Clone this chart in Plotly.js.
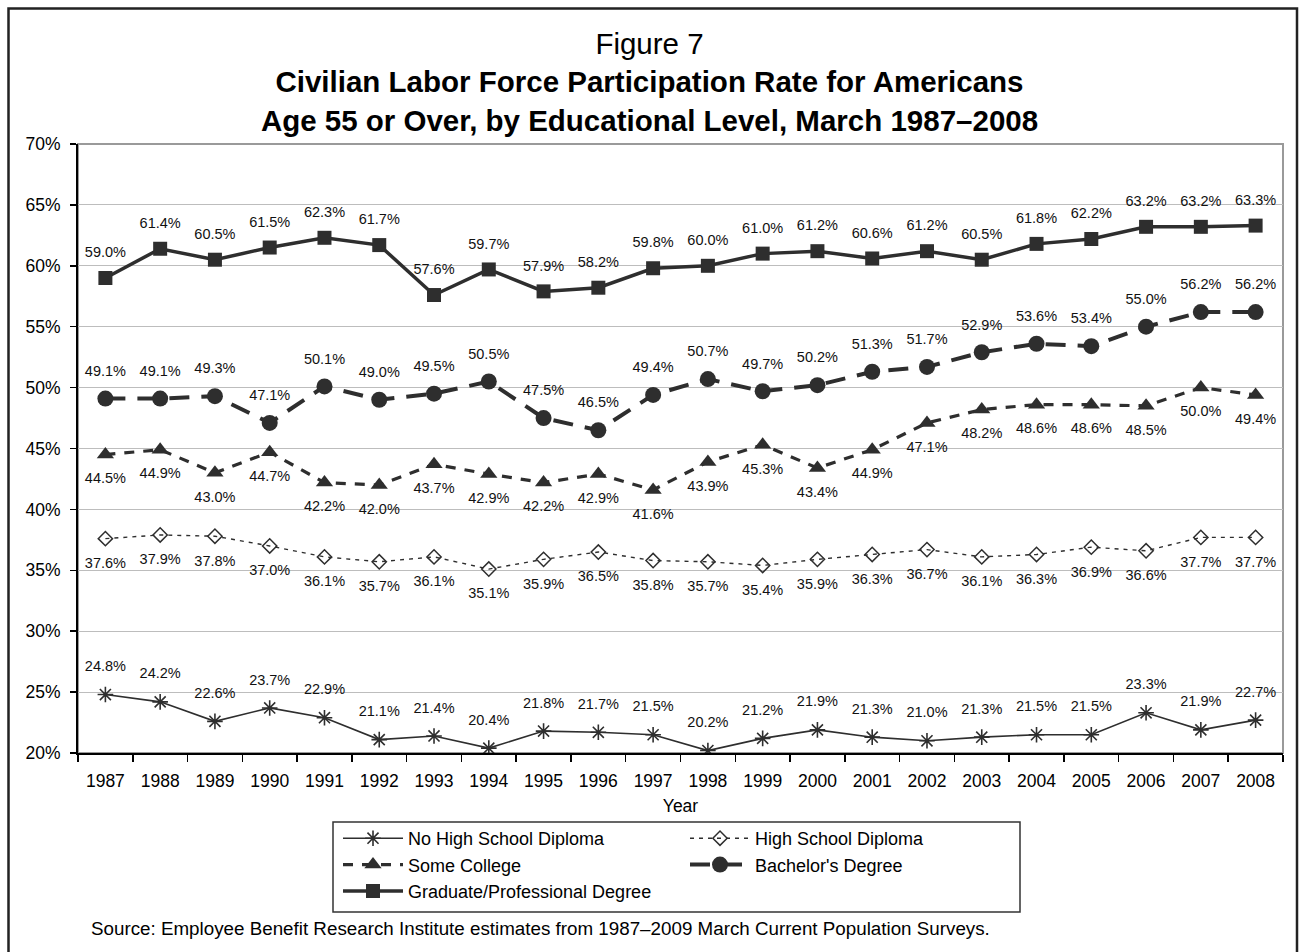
<!DOCTYPE html>
<html>
<head>
<meta charset="utf-8">
<script src="https://cdn.plot.ly/plotly-3.0.1.min.js"></script>
<style>
  html, body { margin: 0; padding: 0; background: #fff; }
  #chart { width: 1299px; height: 952px; }
</style>
</head>
<body>
<div id="chart"></div>
<script>
// Survey years (March CPS)
const years = ["1987","1988","1989","1990","1991","1992","1993","1994","1995","1996","1997",
               "1998","1999","2000","2001","2002","2003","2004","2005","2006","2007","2008"];

// Labor force participation rate (%) by educational level, age 55+
const noHighSchool = [24.8, 24.2, 22.6, 23.7, 22.9, 21.1, 21.4, 20.4, 21.8, 21.7, 21.5,
                      20.2, 21.2, 21.9, 21.3, 21.0, 21.3, 21.5, 21.5, 23.3, 21.9, 22.7];
const highSchool   = [37.6, 37.9, 37.8, 37.0, 36.1, 35.7, 36.1, 35.1, 35.9, 36.5, 35.8,
                      35.7, 35.4, 35.9, 36.3, 36.7, 36.1, 36.3, 36.9, 36.6, 37.7, 37.7];
const someCollege  = [44.5, 44.9, 43.0, 44.7, 42.2, 42.0, 43.7, 42.9, 42.2, 42.9, 41.6,
                      43.9, 45.3, 43.4, 44.9, 47.1, 48.2, 48.6, 48.6, 48.5, 50.0, 49.4];
const bachelors    = [49.1, 49.1, 49.3, 47.1, 50.1, 49.0, 49.5, 50.5, 47.5, 46.5, 49.4,
                      50.7, 49.7, 50.2, 51.3, 51.7, 52.9, 53.6, 53.4, 55.0, 56.2, 56.2];
const graduate     = [59.0, 61.4, 60.5, 61.5, 62.3, 61.7, 57.6, 59.7, 57.9, 58.2, 59.8,
                      60.0, 61.0, 61.2, 60.6, 61.2, 60.5, 61.8, 62.2, 63.2, 63.2, 63.3];

const yTicks = [20, 25, 30, 35, 40, 45, 50, 55, 60, 65, 70];
const yTickLabels = yTicks.map(v => v + "%");

const INK = "#2e2e2e";
const FONT = "Liberation Sans, Arial, Helvetica, sans-serif";
const pct = arr => arr.map(v => v.toFixed(1) + "%");

// one line series plus its value labels; the label trace uses a transparent
// marker whose size sets how far the label sits from the point
function series(name, values, legendId, line, marker, labelPos, labelGap) {
  const lineTrace = {
    type: "scatter", mode: "lines+markers",
    x: years, y: values, name: name,
    line: line, marker: marker,
    legend: legendId, legendgroup: name,
    hoverinfo: "x+y+name"
  };
  const labelTrace = {
    type: "scatter", mode: "markers+text",
    x: years, y: values, name: name,
    text: pct(values),
    textposition: labelPos,
    textfont: { family: FONT, size: 14.5, color: "#111" },
    marker: { size: labelGap, opacity: 0, color: INK },
    cliponaxis: false,
    showlegend: false,
    hoverinfo: "skip"
  };
  return [lineTrace, labelTrace];
}

const traces = [].concat(
  series("No High School Diploma", noHighSchool, "legend",
    { color: INK, width: 1.6, dash: "solid" },
    { symbol: "asterisk-open", size: 13, color: INK, line: { color: INK, width: 1.6 } },
    "top center", 30),
  series("Some College", someCollege, "legend",
    { color: INK, width: 3.2, dash: "10px,9px" },
    { symbol: "triangle-up", size: 15, color: INK },
    "bottom center", 27),
  series("Graduate/Professional Degree", graduate, "legend",
    { color: INK, width: 3.5, dash: "solid" },
    { symbol: "square", size: 14, color: INK },
    "top center", 26),
  series("High School Diploma", highSchool, "legend2",
    { color: INK, width: 1.4, dash: "4px,5px" },
    { symbol: "diamond-open", size: 11, color: INK, line: { color: INK, width: 1.5 } },
    "bottom center", 28),
  series("Bachelor's Degree", bachelors, "legend2",
    { color: INK, width: 4, dash: "20px,12px" },
    { symbol: "circle", size: 16, color: INK },
    "top center", 29)
);

const legendFont = { family: FONT, size: 18, color: "#000" };

// plot area: left 78px, right 1283px, top 144px, bottom 753px
const layout = {
  width: 1299,
  height: 952,
  paper_bgcolor: "#ffffff",
  plot_bgcolor: "#ffffff",
  font: { family: FONT, color: "#111", size: 16 },
  margin: { l: 78, r: 16, t: 144, b: 199, pad: 0 },
  title: {
    text: "Figure 7<br><b>Civilian Labor Force Participation Rate for Americans</b><br><b>Age 55 or Over, by Educational Level, March 1987–2008</b>",
    font: { family: FONT, size: 29.5, color: "#000" },
    x: 0.5, xref: "container", xanchor: "center",
    y: 1 - 54 / 952, yref: "container", yanchor: "top"
  },
  xaxis: {
    type: "category",
    range: [-0.5, 21.5],
    tickson: "boundaries",
    ticks: "outside",
    ticklen: 7,
    tickwidth: 1.5,
    tickcolor: "#000",
    ticklabelstandoff: 11,
    showline: true,
    linecolor: "#000",
    linewidth: 2,
    showgrid: false,
    zeroline: false,
    tickfont: { family: FONT, size: 17.5, color: "#000" },
    title: { text: "Year", font: { family: FONT, size: 17.5, color: "#000" }, standoff: 10 },
    fixedrange: true
  },
  yaxis: {
    range: [20, 70],
    tickvals: yTicks,
    ticktext: yTickLabels,
    ticks: "outside",
    ticklen: 6,
    tickwidth: 1.5,
    tickcolor: "#000",
    ticklabelstandoff: 6,
    showline: true,
    linecolor: "#000",
    linewidth: 2,
    showgrid: true,
    gridcolor: "#bdbdbd",
    gridwidth: 1,
    zeroline: false,
    tickfont: { family: FONT, size: 17.5, color: "#000" },
    fixedrange: true
  },
  showlegend: true,
  legend: {
    x: (338 - 78) / 1205, xanchor: "left",
    y: (753 - 820) / 609, yanchor: "top",
    orientation: "v",
    itemwidth: 60,
    bgcolor: "rgba(0,0,0,0)",
    borderwidth: 0,
    tracegroupgap: 9,
    traceorder: "normal",
    font: legendFont
  },
  legend2: {
    x: (685 - 78) / 1205, xanchor: "left",
    y: (753 - 820) / 609, yanchor: "top",
    orientation: "v",
    itemwidth: 60,
    bgcolor: "rgba(0,0,0,0)",
    borderwidth: 0,
    tracegroupgap: 9,
    traceorder: "normal",
    font: legendFont
  },
  shapes: [
    // plot-area border (gray top and right edges)
    { type: "rect", xref: "paper", yref: "paper", x0: 0, x1: 1, y0: 0, y1: 1,
      line: { color: "#9a9a9a", width: 2 }, fillcolor: "rgba(0,0,0,0)", layer: "below" },
    // legend box
    { type: "rect", xref: "paper", yref: "paper",
      x0: (333 - 78) / 1205, x1: (1020 - 78) / 1205,
      y0: (753 - 822) / 609, y1: (753 - 912) / 609,
      line: { color: "#333", width: 1.5 }, fillcolor: "rgba(0,0,0,0)", layer: "below" },
    // outer frame
    { type: "rect", xref: "paper", yref: "paper",
      x0: (8.5 - 78) / 1205, x1: (1297 - 78) / 1205,
      y0: (753 - 8.5) / 609, y1: (753 - 975) / 609,
      line: { color: "#222", width: 2.5 }, fillcolor: "rgba(0,0,0,0)", layer: "below" }
  ],
  annotations: [
    {
      text: "Source: Employee Benefit Research Institute estimates from 1987–2009 March Current Population Surveys.",
      xref: "paper", yref: "paper",
      x: (89 - 78) / 1205, xanchor: "left",
      y: (753 - 928) / 609, yanchor: "middle",
      showarrow: false,
      font: { family: FONT, size: 18.8, color: "#000" }
    }
  ]
};

Plotly.newPlot("chart", traces, layout, { displayModeBar: false, staticPlot: true });
</script>
</body>
</html>
